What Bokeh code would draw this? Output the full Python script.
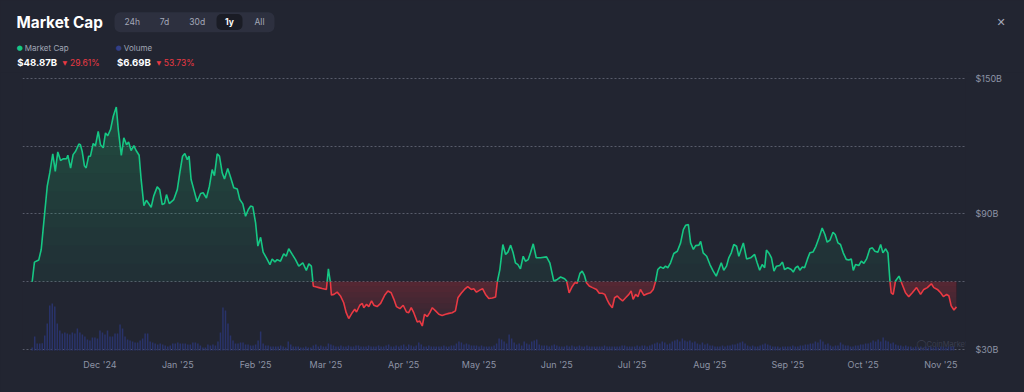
import numpy as np
import pandas as pd
from bokeh.plotting import figure
from bokeh.layouts import column
from bokeh.models import (Range1d, FixedTicker, DatetimeTickFormatter,
                          PrintfTickFormatter, Label, BoxAnnotation)
from bokeh.embed import file_html
from bokeh.resources import INLINE

# ---------------- data ----------------
start_date = "2024-11-04"

mcap_day = [0, 0.9, 2.6, 3.6, 4.6, 6.0, 7.0, 8.2, 9.2, 10.2, 11.3, 12.3, 13.7, 14.2, 15.3, 16.3, 17.3,
            18.6, 19.2, 19.9, 20.8, 21.5, 22.5, 23.2, 24.3, 25.2, 26.3, 27.2, 28.3, 29.2, 30.1, 31.2,
            32.3, 33.5, 34.3, 35.5, 36.5, 37.6, 38.4, 39.4, 40.5, 41.4, 42.6, 43.4, 44.5, 45.5, 47.4,
            48.4, 49.8, 50.8, 51.8, 52.7, 53.5, 54.6, 56.4, 57.8, 58.8, 59.9, 60.8, 61.8, 62.5, 63.3,
            64.4, 65.7, 67.1, 68.1, 69.4, 70.6, 71.7, 72.6, 73.7, 74.6, 75.7, 76.6, 77.9, 79.0, 80.3,
            81.7, 82.7, 83.9, 85.0, 86.1, 87.0, 87.9, 89.0, 89.9, 91.0, 92.0, 93.3, 94.7, 95.6, 96.7,
            97.6, 98.9, 100.2, 101.2, 102.2, 103.6, 104.9, 106.2, 107.8, 109.2, 110.2, 111.2, 112.0,
            112.9, 114.2, 115.5, 117.2, 118.0, 118.8, 119.2, 120.2, 121.5, 122.8, 124.1, 125.1, 126.1,
            127.5, 128.5, 129.2, 130.5, 131.5, 132.1, 133.2, 134.1, 135.2, 136.1, 137.4, 138.8, 140.4,
            141.7, 143.0, 144.1, 145.1, 146.5, 147.8, 149.1, 150.0, 151.0, 152.0, 153.4, 154.4, 155.4,
            156.3, 157.4, 158.4, 159.4, 160.7, 162.0, 163.3, 164.7, 166.0, 167.3, 168.6, 169.6, 170.9,
            172.2, 173.5, 174.9, 175.9, 177.0, 178.3, 179.4, 180.6, 181.9, 183.3, 184.6, 185.3, 186.3,
            187.5, 188.6, 189.5, 190.6, 191.6, 192.5, 193.5, 194.5, 195.6, 196.5, 197.6, 198.5, 199.6,
            200.8, 202.5, 204.9, 206.2, 207.8, 209.2, 210.5, 212.1, 212.9, 213.9, 215.1, 216.2, 217.1,
            218.2, 219.1, 220.0, 220.8, 221.9, 223.2, 224.8, 225.9, 227.1, 228.1, 229.1, 230.0, 231.1,
            232.0, 233.1, 234.1, 235.2, 236.4, 237.7, 238.6, 239.4, 240.4, 241.3, 242.3, 243.7, 245.0,
            246.3, 247.4, 248.3, 249.2, 250.3, 251.4, 252.3, 253.2, 254.3, 255.6, 257.0, 258.3, 259.4,
            260.3, 261.4, 262.3, 263.4, 264.3, 265.6, 266.3, 267.3, 268.7, 270.0, 271.3, 272.5, 273.5,
            274.5, 275.5, 276.6, 277.5, 278.5, 279.5, 280.6, 281.5, 282.5, 283.3, 284.6, 286.2, 287.8,
            288.8, 289.8, 290.8, 291.8, 292.5, 293.6, 294.5, 295.5, 296.5, 297.8, 298.9, 299.7, 301.0,
            302.4, 303.2, 304.1, 305.0, 305.8, 306.8, 307.7, 308.8, 309.8, 311.1, 312.2, 313.4, 314.7,
            315.8, 316.7, 317.8, 319.0, 319.9, 321.0, 322.0, 323.1, 324.3, 325.3, 326.3, 327.1, 328.0,
            329.3, 330.3, 331.3, 332.4, 333.7, 334.7, 335.7, 336.9, 338.0, 338.9, 340.0, 340.9, 341.7,
            342.2, 343.0, 343.9, 345.3, 346.6, 347.9, 349.2, 350.6, 352.3, 353.9, 355.2, 356.6, 358.2,
            359.2, 360.6, 361.9, 363.0, 364.3, 365.2, 366.1, 367.2, 368.2]

mcap_bn = [60.0, 68.7, 69.6, 74.3, 86.1, 102.3, 108.2, 116.6, 108.9, 117.5, 113.7, 114.4, 114.5, 116.0,
           110.3, 116.3, 117.8, 121.0, 120.7, 117.8, 111.4, 110.4, 115.6, 115.6, 121.2, 120.3, 126.6,
           120.7, 119.3, 125.9, 124.7, 127.4, 133.3, 137.4, 127.4, 115.9, 123.7, 120.7, 121.9, 118.1,
           120.3, 118.1, 116.0, 105.3, 93.7, 96.1, 93.0, 97.9, 102.0, 100.8, 94.2, 94.6, 98.6, 94.6,
           96.4, 100.8, 108.2, 115.6, 116.8, 114.1, 115.6, 105.3, 100.8, 95.4, 99.1, 99.4, 97.1, 102.3,
           109.7, 107.0, 116.6, 115.6, 108.2, 105.5, 110.1, 106.4, 101.6, 101.1, 96.4, 94.5, 89.0, 92.0,
           93.5, 93.2, 86.1, 75.8, 79.7, 73.1, 70.6, 67.6, 70.1, 68.8, 69.8, 69.1, 72.4, 71.3, 74.6,
           72.1, 69.8, 66.9, 68.4, 65.0, 67.9, 66.9, 58.0, 57.8, 57.4, 57.0, 56.6, 65.7, 59.6, 54.1,
           54.4, 55.4, 53.7, 50.7, 46.3, 43.7, 46.3, 47.8, 46.6, 49.6, 50.4, 48.5, 50.0, 49.0, 51.5,
           49.6, 49.0, 50.4, 54.0, 55.9, 55.1, 52.2, 49.0, 48.1, 49.6, 46.6, 46.3, 48.5, 46.3, 42.2,
           42.6, 40.4, 45.6, 44.6, 46.3, 48.5, 47.1, 45.6, 45.1, 45.6, 46.0, 46.3, 47.1, 52.9, 54.9,
           56.6, 57.8, 56.6, 56.9, 55.4, 56.3, 56.9, 54.4, 52.6, 52.8, 53.2, 60.0, 65.4, 76.5, 72.1,
           73.1, 76.2, 72.8, 68.4, 67.6, 65.7, 71.3, 69.1, 69.8, 72.8, 76.8, 70.6, 70.6, 71.0, 68.4,
           60.3, 61.0, 62.1, 61.3, 60.3, 55.1, 57.8, 59.6, 59.3, 63.7, 64.7, 62.8, 59.6, 58.1, 57.4,
           56.6, 54.9, 54.9, 54.4, 51.9, 50.0, 48.5, 52.9, 53.7, 52.5, 51.5, 52.9, 54.4, 55.9, 52.2,
           54.4, 53.4, 56.6, 54.0, 54.7, 55.1, 56.6, 60.0, 65.4, 66.6, 65.9, 66.9, 66.2, 68.4, 72.5,
           73.5, 77.2, 83.1, 85.0, 85.3, 77.2, 74.3, 76.0, 76.2, 77.9, 72.8, 71.3, 67.6, 64.7, 62.5,
           65.4, 68.4, 65.1, 66.9, 70.6, 72.8, 76.5, 75.7, 71.3, 74.6, 77.2, 70.1, 70.6, 72.1, 68.4,
           65.1, 67.6, 66.2, 74.0, 72.5, 70.6, 64.7, 66.9, 67.2, 68.7, 65.4, 66.2, 65.4, 64.3, 66.2,
           66.9, 65.1, 66.5, 66.2, 69.9, 72.8, 73.2, 75.7, 79.4, 83.8, 80.9, 77.5, 78.4, 81.9, 80.9,
           77.2, 76.5, 72.8, 69.9, 69.6, 70.1, 65.0, 67.6, 67.2, 69.1, 68.1, 70.1, 74.6, 75.0, 73.5,
           73.1, 76.5, 72.8, 74.6, 72.8, 60.3, 55.1, 54.4, 60.3, 62.5, 58.8, 55.1, 53.4, 55.1, 57.4,
           54.4, 56.6, 57.4, 59.1, 57.4, 56.6, 55.1, 53.4, 54.4, 53.7, 49.3, 47.5, 48.87]

# daily volume, $B, one bar per day from start_date
vol_bn = [4.8, 22.4, 11.2, 11.0, 11.5, 24.0, 43.2, 72.0, 75.2, 70.4,
          43.2, 32.0, 27.2, 28.8, 27.2, 25.6, 28.8, 27.2, 35.2, 28.8,
          25.6, 22.4, 17.6, 16.0, 20.8, 20.8, 19.2, 32.0, 28.8, 25.6,
          32.0, 22.4, 22.4, 27.2, 27.2, 41.6, 35.2, 22.4, 17.6, 16.0,
          14.4, 12.8, 12.8, 16.0, 19.2, 27.2, 27.2, 14.4, 12.8, 11.2,
          9.6, 11.2, 9.6, 8.0, 6.4, 8.0, 11.2, 11.2, 12.8, 11.2,
          11.2, 11.2, 9.6, 9.6, 12.8, 12.8, 11.2, 8.0, 4.8, 4.8,
          9.6, 8.0, 9.6, 8.0, 14.4, 28.8, 68.8, 64.0, 43.2, 24.0,
          16.0, 11.2, 11.2, 12.8, 12.8, 9.6, 9.6, 8.0, 8.0, 9.6,
          16.0, 30.4, 11.2, 8.0, 8.0, 6.4, 6.4, 6.4, 6.4, 8.0,
          6.4, 4.8, 14.4, 9.6, 6.4, 6.4, 6.4, 4.8, 4.8, 6.4,
          4.8, 4.8, 8.0, 9.6, 6.4, 8.0, 6.4, 6.4, 11.2, 9.6, 8.0, 6.4,
          6.4, 8.0, 6.4, 6.4, 8.0, 6.4, 6.4, 8.0, 8.0, 6.4,
          6.4, 6.4, 8.0, 6.4, 6.4, 6.4, 8.0, 6.4, 6.4, 8.0,
          9.6, 6.4, 6.4, 8.0, 6.4, 8.0, 9.6, 6.4, 9.6, 8.0,
          6.4, 8.0, 12.8, 9.6, 6.4, 6.4, 8.0, 6.4, 6.4, 6.4,
          6.4, 6.4, 8.0, 6.4, 6.4, 8.0, 8.0, 11.2, 14.4, 12.8,
          9.6, 11.2, 9.6, 8.0, 8.0, 8.0, 6.4, 8.0, 6.4, 6.4,
          6.4, 6.4, 8.0, 11.2, 19.2, 17.6, 14.4, 11.2, 25.6, 19.2,
          12.8, 9.6, 11.2, 8.0, 14.4, 11.2, 9.6, 14.4, 16.0, 17.6,
          9.6, 8.0, 8.0, 8.0, 6.4, 8.0, 9.6, 8.0, 6.4, 6.4,
          6.4, 8.0, 6.4, 8.0, 6.4, 6.4, 8.0, 6.4, 6.4, 8.0,
          6.4, 6.4, 6.4, 6.4, 6.4, 6.4, 8.0, 6.4, 6.4, 6.4,
          6.4, 6.4, 6.4, 8.0, 8.0, 6.4, 6.4, 6.4, 6.4, 8.0,
          6.4, 8.0, 8.0, 6.4, 8.0, 9.6, 11.2, 12.8, 11.2, 14.4,
          12.8, 9.6, 11.2,
          14.4, 16.0, 17.6, 14.4, 19.2, 16.0, 14.4, 16.0, 12.8, 14.4,
          11.2, 9.6, 12.8, 9.6, 11.2, 8.0, 8.0, 6.4, 6.4, 6.4,
          8.0, 6.4, 8.0, 8.0, 9.6, 9.6, 11.2, 12.8, 14.4, 11.2,
          8.0, 6.4, 8.0, 6.4, 6.4, 8.0, 9.6, 11.2, 9.6, 8.0,
          6.4, 6.4, 6.4, 4.8, 6.4, 6.4, 6.4, 6.4, 8.0, 6.4,
          6.4, 8.0, 8.0, 9.6, 9.6, 11.2, 11.2, 14.4, 12.8, 17.6,
          14.4, 9.6, 11.2, 8.0, 6.4, 8.0, 8.0, 12.8, 9.6, 8.0,
          8.0, 6.4, 6.4, 8.0, 8.0, 9.6, 9.6, 11.2, 11.2, 12.8,
          16.0, 14.4, 17.6, 14.4, 20.8, 16.0, 14.4, 11.2, 12.8, 9.6,
          8.0, 8.0, 6.4, 8.0, 6.4, 6.4, 4.8, 6.4, 4.8, 6.4,
          4.8, 6.4, 4.8, 6.4, 4.8, 6.4, 4.8, 6.4, 6.4, 4.8,
          6.4, 6.4, 6.69]

month_ticks = ["2024-12-01", "2025-01-01", "2025-02-01", "2025-03-01", "2025-04-01", "2025-05-01",
               "2025-06-01", "2025-07-01", "2025-08-01", "2025-09-01", "2025-10-01", "2025-11-01"]
grid_ticks = [30, 60, 90, 120, 150]
label_ticks = [30, 90, 150]
range_buttons = ["24h", "7d", "30d", "1y", "All"]
selected_range = "1y"
title_text = "Market Cap"
legend_names = ["Market Cap", "Volume"]
current_values = ["$48.87B", "$6.69B"]
change_pct = ["29.61%", "53.73%"]

# ---------------- styling ----------------
BG = "#222531"
GREEN = "#16c784"
RED = "#ea3943"
VOL = "#29336a"
GRID = "#585c6b"
MUTED = "#8d93a5"
FONT = "Inter"
DAY = 86400000.0
W = 1024
HEAD_H = 72          # header strip height (px)
MAIN_H = 392 - HEAD_H

# ================= header figure =================
h = figure(width=W, height=HEAD_H, x_range=Range1d(0, W), y_range=Range1d(HEAD_H, 0),
           output_backend="svg", toolbar_location=None,
           x_axis_location=None, y_axis_location=None,
           min_border=0, min_border_left=0, min_border_right=0, min_border_top=0, min_border_bottom=0,
           background_fill_color=BG, border_fill_color=BG, outline_line_color=None)
h.grid.visible = False
try:
    h.frame_align = False
except Exception:
    pass


def hlab(x, y, text, size, color, bold=False, align="left", font=FONT):
    h.add_layout(Label(x=x, y=y, text=text, text_font_size=size, text_color=color,
                       text_font_style="bold" if bold else "normal",
                       text_align=align, text_baseline="middle", text_font=font))


def hbox(l, r, t, b, color, radius):
    h.add_layout(BoxAnnotation(left=l, right=r, top=t, bottom=b, fill_color=color, fill_alpha=1,
                               line_color=None, border_radius=radius))


hlab(16, 21.5, title_text, "15.3px", "#ffffff", bold=True)
hbox(114, 274, 11.7, 31.7, "#2d303f", 6)
hbox(216, 242, 13.5, 29.5, "#1a1c25", 5)
for name, cx in zip(range_buttons, [131.7, 164, 196.7, 229, 259]):
    sel = name == selected_range
    hlab(cx, 21.5, name, "8.5px", "#ffffff" if sel else "#a3a8b8", bold=sel, align="center")

hlab(1000.5, 21.5, "\u2715", "11px", "#a3a8b8", align="center", font="DejaVu Sans")

hlab(19.3, 47.5, "\u25cf", "7px", GREEN, align="center", font="DejaVu Sans")
hlab(24.3, 47.5, legend_names[0], "8px", "#a0a5b5")
hlab(118.3, 47.5, "\u25cf", "7px", "#333f85", align="center", font="DejaVu Sans")
hlab(123.3, 47.5, legend_names[1], "8px", "#a0a5b5")

hlab(16.8, 62.3, current_values[0], "9.6px", "#ffffff", bold=True)
hlab(64.3, 62.3, "\u25bc", "6px", RED, align="center", font="DejaVu Sans")
hlab(69.5, 62.3, change_pct[0], "8.5px", RED)
hlab(116.4, 62.3, current_values[1], "9.6px", "#ffffff", bold=True)
hlab(158.3, 62.3, "\u25bc", "6px", RED, align="center", font="DejaVu Sans")
hlab(163.3, 62.3, change_pct[1], "8.5px", RED)

# ================= main chart =================
t0 = pd.Timestamp(start_date).value / 1e6
x = t0 + np.array(mcap_day) * DAY
y = np.array(mcap_bn, dtype=float)
base = y[0]

# insert baseline crossings so colours switch exactly at the baseline
xs, ys = [x[0]], [y[0]]
for i in range(len(y) - 1):
    a, b = y[i] - base, y[i + 1] - base
    if a * b < 0:
        t = a / (a - b)
        xs.append(x[i] + t * (x[i + 1] - x[i]))
        ys.append(base)
    xs.append(x[i + 1])
    ys.append(y[i + 1])
xs = np.array(xs)
ys = np.array(ys)
up = np.maximum(ys, base)
dn = np.minimum(ys, base)
green_line = np.where(ys >= base, ys, np.nan)
red_line = np.where(ys <= base, ys, np.nan)

vol_x = t0 + np.arange(len(vol_bn)) * DAY

p = figure(width=W, height=MAIN_H, x_axis_type="datetime", y_axis_location="right",
           x_range=Range1d(t0 - 3.86 * DAY, t0 + 371.8 * DAY),
           y_range=Range1d(29.11, 152.66),
           output_backend="svg", toolbar_location=None,
           min_border_left=22, min_border_right=59, min_border_top=0, min_border_bottom=41,
           background_fill_color=BG, border_fill_color=BG, outline_line_color=None)

p.extra_y_ranges = {"vol": Range1d(-1.6, 444.0)}

# volume bars
p.vbar(x=vol_x, top=vol_bn, bottom=0, width=0.6 * DAY, y_range_name="vol",
       fill_color=VOL, line_color=None, fill_alpha=1.0)

# green area with vertical gradient (stronger towards the top)
p.varea(x=xs, y1=np.full_like(up, base), y2=up, fill_color=GREEN, fill_alpha=0.07)
for lvl in [68, 76, 84, 92, 100, 108, 116, 124]:
    p.varea(x=xs, y1=np.full_like(up, lvl), y2=np.maximum(up, lvl), fill_color=GREEN, fill_alpha=0.022)

# red area, stronger close to the baseline
p.varea(x=xs, y1=dn, y2=np.full_like(dn, base), fill_color=RED, fill_alpha=0.1)
for lvl in [58, 55.5, 53, 50.5, 48, 45.5]:
    p.varea(x=xs, y1=np.maximum(dn, lvl), y2=np.full_like(dn, base), fill_color=RED, fill_alpha=0.035)

p.line(xs, green_line, line_color=GREEN, line_width=1.6)
p.line(xs, red_line, line_color=RED, line_width=1.6)

# axes / grid
p.xgrid.visible = False
p.ygrid.ticker = FixedTicker(ticks=grid_ticks)
p.ygrid.grid_line_color = GRID
p.ygrid.grid_line_dash = "2 2"
p.ygrid.grid_line_width = 1

yax = p.yaxis[0]
yax.ticker = FixedTicker(ticks=label_ticks)
yax.formatter = PrintfTickFormatter(format="$%dB")
xax = p.xaxis[0]
xax.ticker = FixedTicker(ticks=[pd.Timestamp(d).value / 1e6 for d in month_ticks])
fmt = "%b '%y"
xax.formatter = DatetimeTickFormatter(days=fmt, months=fmt, years=fmt, hours=fmt)
for ax, st in ((xax, 7), (yax, 10)):
    ax.axis_line_color = None
    ax.major_tick_line_color = None
    ax.minor_tick_line_color = None
    ax.major_tick_out = 0
    ax.major_tick_in = 0
    ax.major_label_standoff = st
    ax.major_label_text_color = MUTED
    ax.major_label_text_font = FONT
    ax.major_label_text_font_size = "9px"

# faint watermark (screen units relative to plot frame: left = 22px, bottom = 351px on page)
p.add_layout(Label(x=921 - 22, y=351 - 343.5, x_units="screen", y_units="screen", text="\u25ef",
                   text_font_size="9px", text_color="#3a3e4f", text_align="center",
                   text_baseline="middle", text_font="DejaVu Sans"))
p.add_layout(Label(x=926 - 22, y=351 - 343.5, x_units="screen", y_units="screen", text="CoinMarketCap",
                   text_font_size="7.5px", text_color="#3a3e4f", text_align="left",
                   text_baseline="middle", text_font=FONT))

layout = column(h, p, spacing=0)
html = file_html(layout, INLINE)
html = html.replace("</head>", "<style>html,body{background:#222531;}</style></head>", 1)
open("out.html", "w").write(html)
